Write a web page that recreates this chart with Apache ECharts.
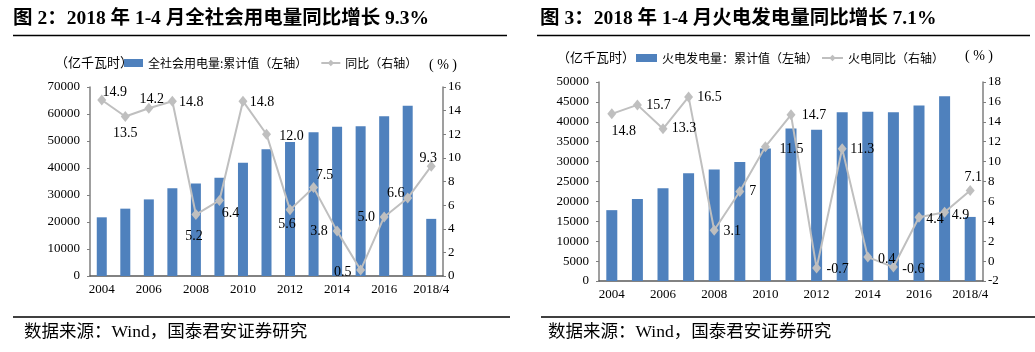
<!DOCTYPE html>
<html>
<head>
<meta charset="utf-8">
<script src="https://cdn.jsdelivr.net/npm/echarts@6/dist/echarts.min.js"></script>
<style>
  html, body { margin: 0; padding: 0; background: #fff; }
  #main { width: 1035px; height: 352px; }
</style>
</head>
<body>
<div id="main"></div>
<script>
// 年份
var years = ['2004', '2005', '2006', '2007', '2008', '2009', '2010', '2011',
  '2012', '2013', '2014', '2015', '2016', '2017', '2018/4'];

// 图2 全社会用电量
var useTotal = [21735, 24940, 28368, 32458, 34268, 36430, 41923, 46928,
  49591, 53223, 55233, 55500, 59198, 63077, 21161];
var useYoy = [14.9, 13.5, 14.2, 14.8, 5.2, 6.4, 14.8, 12.0, 5.6, 7.5, 3.8, 0.5, 5.0, 6.6, 9.3];

// 图3 火电发电量
var thermalTotal = [17800, 20600, 23300, 27100, 28000, 29900, 33300, 38300,
  38000, 42400, 42500, 42400, 44100, 46400, 16100];
var thermalYoy = [14.8, 15.7, 13.3, 16.5, 3.1, 7, 11.5, 14.7, -0.7, 11.3, 0.4, -0.6, 4.4, 4.9, 7.1];

// 标签偏移（样式）
var offs1 = [[13, -8], [0, 17], [3, -9], [19, 1], [-2, 22], [11, 13], [19, 1], [25, 2],
  [-3, 14], [11, -12], [-18, 0], [-18, 2], [-18, 0], [-12, -5], [-3, -8]];
var offs2 = [[12, 17], [21, 0], [21, 0], [21, 0], [18, 1], [13, 0], [26, 3], [23, 0],
  [21, 1], [20, 1], [19, 2], [20, 2], [16, 2], [16, 3], [3, -13]];

var SERIF = '"Liberation Serif", "Times New Roman", "Noto Sans CJK SC", serif';
var CJK = '"Noto Sans CJK SC", "Liberation Serif", sans-serif';
var BLUE = '#4F81BD';
var GREY = '#BFBFBF';

function lineData(vals, offs, fmt) {
  return vals.map(function (v, i) {
    return {
      value: v,
      label: {
        show: true, position: 'inside', offset: offs[i],
        formatter: fmt ? fmt(v) : String(v)
      }
    };
  });
}

function yAxisBase(min, max, interval, pos, idx) {
  return {
    type: 'value', gridIndex: idx, position: pos, min: min, max: max, interval: interval,
    splitLine: { show: false },
    axisLine: { show: true, lineStyle: { color: '#7f7f7f', width: 1.5 } },
    axisTick: { show: true, length: 3, lineStyle: { color: '#7f7f7f' } },
    axisLabel: {
      color: '#000', fontFamily: SERIF, fontSize: 13, margin: pos === 'left' ? 10 : 5,
      formatter: function (v) { return String(v); }
    }
  };
}

function xAxisBase(idx) {
  return {
    type: 'category', gridIndex: idx, data: years,
    axisLine: { lineStyle: { color: '#595959', width: 1.5 } },
    axisTick: { show: false },
    axisLabel: { interval: 1, color: '#000', fontFamily: SERIF, fontSize: 13, margin: 7 }
  };
}

var chart = echarts.init(document.getElementById('main'));

var option = {
  animation: false,
  textStyle: { fontFamily: SERIF },
  grid: [
    { left: 90, right: 592, top: 87, bottom: 76 },
    { left: 599, right: 52, top: 82, bottom: 71 }
  ],
  legend: [
    {
      left: 124, top: 57, padding: 0, itemWidth: 19, itemHeight: 8, itemGap: 13,
      textStyle: { fontFamily: CJK, fontSize: 12, color: '#000' },
      data: [{ name: '全社会用电量:累计值（左轴）', icon: 'rect' }, { name: '同比（右轴）' }]
    },
    {
      left: 636, top: 52, padding: 0, itemWidth: 21, itemHeight: 8, itemGap: 3,
      textStyle: { fontFamily: CJK, fontSize: 12, color: '#000' },
      data: [{ name: '火电发电量：累计值（左轴）', icon: 'rect' }, { name: '火电同比（右轴）' }]
    }
  ],
  xAxis: [xAxisBase(0), xAxisBase(1)],
  yAxis: [
    yAxisBase(0, 70000, 10000, 'left', 0),
    yAxisBase(0, 16, 2, 'right', 0),
    yAxisBase(0, 50000, 5000, 'left', 1),
    yAxisBase(-2, 18, 2, 'right', 1)
  ],
  series: [
    {
      name: '全社会用电量:累计值（左轴）', type: 'bar', xAxisIndex: 0, yAxisIndex: 0,
      data: useTotal, barWidth: 10, itemStyle: { color: BLUE }
    },
    {
      name: '同比（右轴）', type: 'line', xAxisIndex: 0, yAxisIndex: 1,
      data: lineData(useYoy, offs1, function (v) { return v.toFixed(1); }),
      symbol: 'diamond', symbolSize: [9, 11],
      lineStyle: { color: GREY, width: 2 }, itemStyle: { color: GREY },
      label: { color: '#000', fontFamily: SERIF, fontSize: 14 }
    },
    {
      name: '火电发电量：累计值（左轴）', type: 'bar', xAxisIndex: 1, yAxisIndex: 2,
      data: thermalTotal, barWidth: 11, itemStyle: { color: BLUE }
    },
    {
      name: '火电同比（右轴）', type: 'line', xAxisIndex: 1, yAxisIndex: 3,
      data: lineData(thermalYoy, offs2),
      symbol: 'diamond', symbolSize: [9, 11],
      lineStyle: { color: GREY, width: 2 }, itemStyle: { color: GREY },
      label: { color: '#000', fontFamily: SERIF, fontSize: 14 }
    }
  ],
  graphic: [
    // titles
    { type: 'text', left: 13, top: 9, style: { text: '图 2：2018 年 1-4 月全社会用电量同比增长 9.3%', font: 'bold 19.5px ' + SERIF, fill: '#000' } },
    { type: 'text', left: 540, top: 9, style: { text: '图 3：2018 年 1-4 月火电发电量同比增长 7.1%', font: 'bold 19.5px ' + SERIF, fill: '#000' } },
    { type: 'line', shape: { x1: 13, y1: 35.5, x2: 507, y2: 35.5 }, style: { stroke: '#000', lineWidth: 1.5 } },
    { type: 'line', shape: { x1: 537, y1: 35.5, x2: 1030, y2: 35.5 }, style: { stroke: '#000', lineWidth: 1.5 } },
    // unit labels
    { type: 'text', left: 55, top: 56, style: { text: '（亿千瓦时）', font: '13px ' + CJK, fill: '#000' } },
    { type: 'text', left: 429, top: 58, style: { text: '( % )', font: '14px ' + SERIF, fill: '#000' } },
    { type: 'text', left: 557, top: 51, style: { text: '（亿千瓦时）', font: '13px ' + CJK, fill: '#000' } },
    { type: 'text', left: 965, top: 49, style: { text: '( % )', font: '14px ' + SERIF, fill: '#000' } },
    // bottom rules and source
    { type: 'line', shape: { x1: 13, y1: 317, x2: 510, y2: 317 }, style: { stroke: '#000', lineWidth: 1.5 } },
    { type: 'line', shape: { x1: 541, y1: 317, x2: 1035, y2: 317 }, style: { stroke: '#000', lineWidth: 1.5 } },
    { type: 'text', left: 24, top: 324, style: { text: '数据来源：Wind，国泰君安证券研究', font: '17.5px ' + SERIF, fill: '#000' } },
    { type: 'text', left: 548, top: 324, style: { text: '数据来源：Wind，国泰君安证券研究', font: '17.5px ' + SERIF, fill: '#000' } }
  ]
};

chart.setOption(option);
window.onresize = function () { chart.resize(); };
</script>
</body>
</html>
